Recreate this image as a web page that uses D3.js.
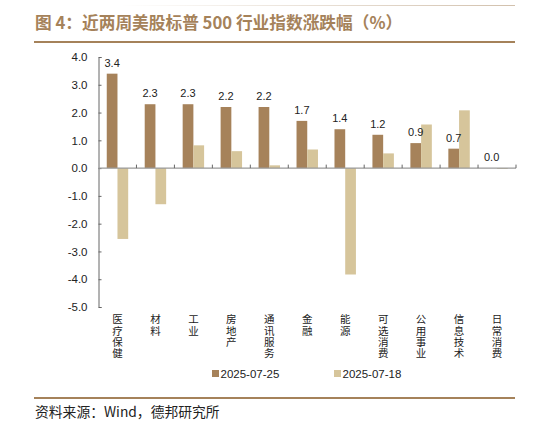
<!DOCTYPE html>
<html>
<head>
<meta charset="utf-8">
<script src="https://cdn.jsdelivr.net/npm/d3@7"></script>
<style>
  html, body { margin: 0; padding: 0; background: #fff; }
  svg { display: block; }
  .cat { writing-mode: vertical-rl; text-orientation: upright; }
</style>
</head>
<body>
<div id="chart"></div>
<script>
const categories = ["医疗保健", "材料", "工业", "房地产", "通讯服务", "金融", "能源", "可选消费", "公用事业", "信息技术", "日常消费"];
const seriesNames = ["2025-07-25", "2025-07-18"];
const valuesCurrent = [3.4, 2.3, 2.3, 2.2, 2.2, 1.7, 1.4, 1.2, 0.9, 0.7, 0.0];
const valuesPrevious = [-2.55, -1.3, 0.82, 0.61, 0.1, 0.67, -3.83, 0.53, 1.57, 2.08, -0.03];
const yTicks = [4, 3, 2, 1, 0, -1, -2, -3, -4, -5];

const width = 555, height = 439;
const margin = { left: 98.5, right: 39, top: 57, bottom: 132 };
const colors = ["#a6825a", "#d6c59b"];
const brown = "#a5825a";

const svg = d3.select("#chart").append("svg")
    .attr("width", width)
    .attr("height", height);

// faint top line
const grad = svg.append("defs").append("linearGradient")
    .attr("id", "fade").attr("x1", "0").attr("x2", "1");
grad.append("stop").attr("offset", "0").attr("stop-color", brown).attr("stop-opacity", 0);
grad.append("stop").attr("offset", "1").attr("stop-color", brown).attr("stop-opacity", 0.5);
svg.append("rect").attr("x", 120).attr("y", 5).attr("width", 395).attr("height", 1)
    .attr("fill", "url(#fade)");

// title
svg.append("text")
    .attr("x", 35).attr("y", 29)
    .attr("font-family", "'Noto Sans CJK SC', sans-serif")
    .attr("font-weight", "bold")
    .attr("font-size", 16.7)
    .attr("fill", brown)
    .text("图 4：近两周美股标普 500 行业指数涨跌幅（%）");

svg.append("rect").attr("x", 34).attr("y", 41).attr("width", 481).attr("height", 2).attr("fill", brown);
svg.append("rect").attr("x", 34).attr("y", 397).attr("width", 481).attr("height", 2).attr("fill", brown);

svg.append("text")
    .attr("x", 35).attr("y", 417)
    .attr("font-family", "'Noto Sans CJK SC', sans-serif")
    .attr("font-size", 13.8)
    .attr("fill", "#222")
    .text("资料来源：Wind，德邦研究所");

const x0 = d3.scaleBand()
    .domain(categories)
    .range([margin.left, width - margin.right]);

const x1 = d3.scaleBand()
    .domain(seriesNames)
    .range([0, x0.bandwidth()])
    .paddingOuter(0.77);

const y = d3.scaleLinear()
    .domain([-5, 4])
    .range([height - margin.bottom, margin.top]);

// y axis
const yAxis = svg.append("g")
    .attr("transform", `translate(${margin.left},0)`)
    .call(d3.axisLeft(y)
        .tickValues(yTicks)
        .tickFormat(d => d.toFixed(1))
        .tickSizeInner(-3)
        .tickSizeOuter(-3)
        .tickPadding(11));
yAxis.selectAll("path, line").attr("stroke", "#666");
yAxis.selectAll("text")
    .attr("font-family", "'Liberation Sans', Arial, sans-serif")
    .attr("font-size", 11.5)
    .attr("fill", "#222");

// bars
const rows = categories.map((c, i) => ({ cat: c, vals: [valuesCurrent[i], valuesPrevious[i]] }));

const groups = svg.append("g").selectAll("g")
    .data(rows)
    .join("g")
    .attr("transform", d => `translate(${x0(d.cat)},0)`);

groups.selectAll("rect")
    .data(d => d.vals.map((v, k) => ({ key: seriesNames[k], v, k })))
    .join("rect")
    .attr("x", d => x1(d.key))
    .attr("width", x1.bandwidth())
    .attr("y", d => y(Math.max(0, d.v)))
    .attr("height", d => Math.abs(y(d.v) - y(0)))
    .attr("fill", d => colors[d.k]);

// value labels on current-week bars
groups.append("text")
    .attr("x", x1(seriesNames[0]) + x1.bandwidth() / 2)
    .attr("y", d => y(Math.max(0, d.vals[0])) - 7)
    .attr("text-anchor", "middle")
    .attr("font-family", "'Liberation Sans', Arial, sans-serif")
    .attr("font-size", 11)
    .attr("fill", "#222")
    .text(d => d.vals[0].toFixed(1));

// zero axis line with category separators
svg.append("line")
    .attr("x1", margin.left).attr("x2", width - margin.right)
    .attr("y1", y(0)).attr("y2", y(0))
    .attr("stroke", "#999").attr("stroke-width", 1.4);

svg.append("g").selectAll("line")
    .data(categories)
    .join("line")
    .attr("x1", d => x0(d) + x0.bandwidth())
    .attr("x2", d => x0(d) + x0.bandwidth())
    .attr("y1", y(0) - 3.5).attr("y2", y(0))
    .attr("stroke", "#666");

// vertical category labels, characters stacked upright
svg.append("g").selectAll("text")
    .data(categories)
    .join("text")
    .attr("class", "cat")
    .attr("x", d => x0(d) + x0.bandwidth() / 2)
    .attr("y", 314)
    .attr("text-anchor", "start")
    .attr("letter-spacing", 0.8)
    .attr("font-family", "'Noto Sans CJK SC', sans-serif")
    .attr("font-size", 10.5)
    .attr("fill", "#222")
    .text(d => d);

// legend
const legend = svg.append("g").selectAll("g")
    .data(seriesNames)
    .join("g")
    .attr("transform", (d, i) => `translate(${212 + i * 122},0)`);

legend.append("rect")
    .attr("x", 0).attr("y", 370)
    .attr("width", 7).attr("height", 7)
    .attr("fill", (d, i) => colors[i]);

legend.append("text")
    .attr("x", 8.5).attr("y", 378)
    .attr("font-family", "'Liberation Sans', Arial, sans-serif")
    .attr("font-size", 11.5)
    .attr("fill", "#222")
    .text(d => d);
</script>
</body>
</html>
